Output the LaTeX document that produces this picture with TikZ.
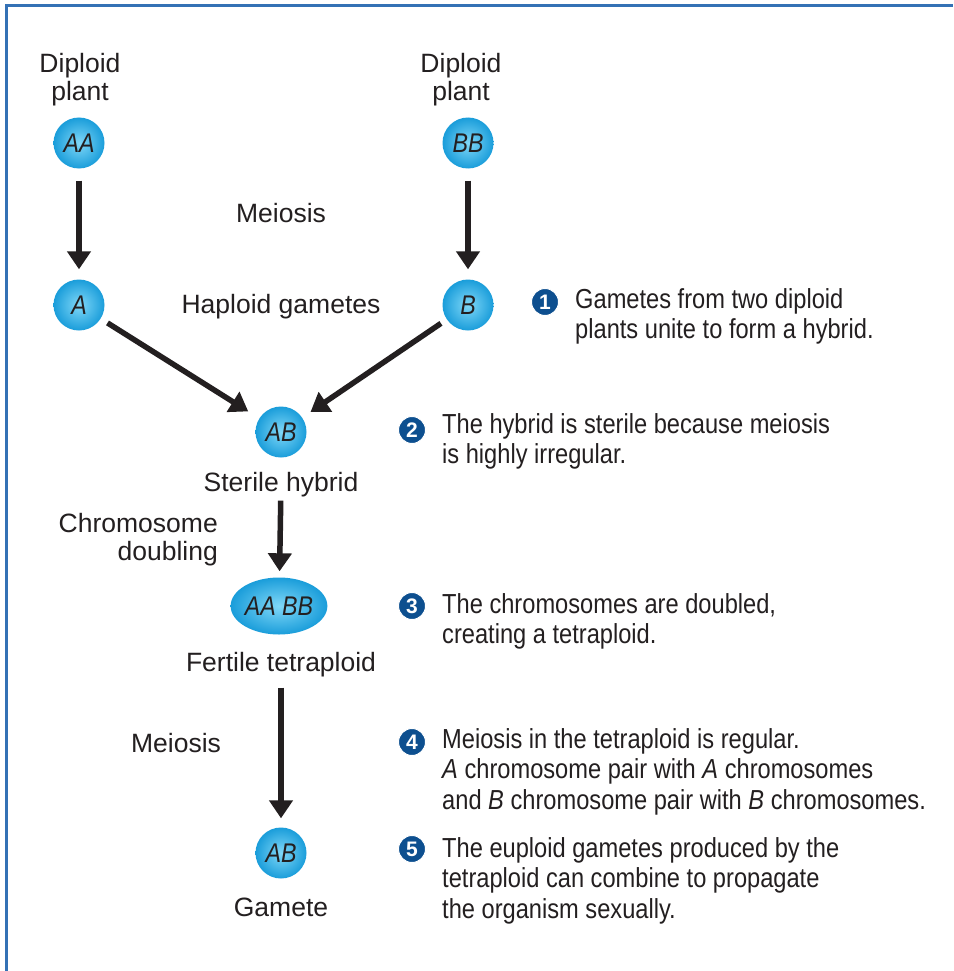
\documentclass[tikz,border=0pt]{standalone}
\usepackage{fontspec}
\setmainfont{Liberation Sans}
\newfontfamily\condfont[FakeStretch=0.86]{Liberation Sans}
\usetikzlibrary{arrows.meta,shapes.geometric}

\definecolor{ink}{HTML}{231F20}
\definecolor{frameblue}{HTML}{3471B5}
\definecolor{cellin}{HTML}{80D8F8}
\definecolor{cellout}{HTML}{1A9DDA}
\definecolor{badgeblue}{HTML}{0D4F8F}

\tikzset{
  cell/.style={circle, minimum size=51pt, inner sep=0pt,
    inner color=cellin, outer color=cellout, text=ink,
    font=\condfont\itshape\fontsize{27}{27}\selectfont},
  label/.style={font=\fontsize{26.5}{28}\selectfont, align=center, text=ink, inner sep=0pt},
  flow/.style={line width=5.5pt, ink, -{Triangle[width=23pt,length=18pt]}},
  badge/.style={circle, fill=badgeblue, draw=white, line width=1pt, minimum size=27pt, inner sep=0pt,
    text=white, font=\bfseries\fontsize{21}{21}\selectfont},
  note/.style={font=\condfont\fontsize{27.5}{30.5}\selectfont, align=left,
    anchor=north west, inner sep=0pt, text=ink},
}

\begin{document}
\begin{tikzpicture}[x=1pt,y=-1pt]
  \useasboundingbox (0,0) rectangle (953,971);
  \fill[white] (0,0) rectangle (953,971);
  % frame
  \draw[frameblue, line width=3pt] (6,971) -- (6,6) -- (953,6);

  % parent plants
  \node[label] (dipA) at (80,80) {Diploid\\plant};
  \node[label] (dipB) at (461,80) {Diploid\\plant};
  \node[cell] (AA) at (79,143) {AA};
  \node[cell] (BB) at (468,143) {BB};

  \node[label] (meiosis1) at (281,213) {Meiosis};

  % gametes
  \node[cell] (A) at (79,305) {A};
  \node[cell] (B) at (468,305) {B};
  \node[label] (haploid) at (281,307) {Haploid gametes};

  % hybrid
  \node[cell] (AB) at (281,432) {AB};
  \node[label] (sterile) at (281,485) {Sterile hybrid};
  \node[label, align=right, anchor=east] (doubling) at (218,540) {Chromosome\\doubling};

  % tetraploid
  \node[cell, ellipse, minimum width=84pt, minimum height=57pt] (AABB) at (279,606) {AA BB};
  \node[label] (fertile) at (281,665) {Fertile tetraploid};
  \node[label] (meiosis2) at (176,743) {Meiosis};

  % gamete
  \node[cell] (gamete) at (281,853) {AB};
  \node[label] (gameteLabel) at (281,907) {Gamete};

  % connectors
  \draw[flow, shorten <=12pt, shorten >=10pt] (AA) -- (A);
  \draw[flow, shorten <=12pt, shorten >=10pt] (BB) -- (B);
  \draw[flow, shorten <=8pt, shorten >=13pt] (A) -- (AB);
  \draw[flow, shorten <=7pt, shorten >=10pt] (B) -- (AB);
  \draw[flow, shorten <=3pt, shorten >=6pt] (sterile) -- (AABB);
  \draw[flow, shorten <=10pt, shorten >=9pt] (fertile) -- (gamete);

  % numbered notes
  \node[badge] (n1) at (545,302) {1};
  \node[note] (t1) at (575,288) {Gametes from two diploid\\plants unite to form a hybrid.};

  \node[badge] (n2) at (412,430) {2};
  \node[note] (t2) at (442,413) {The hybrid is sterile because meiosis\\is highly irregular.};

  \node[badge] (n3) at (412,606) {3};
  \node[note] (t3) at (442,593) {The chromosomes are doubled,\\creating a tetraploid.};

  \node[badge] (n4) at (412,742) {4};
  \node[note] (t4) at (442,728) {Meiosis in the tetraploid is regular.\\\textit{A} chromosome pair with \textit{A} chromosomes\\and \textit{B} chromosome pair with \textit{B} chromosomes.};

  \node[badge] (n5) at (412,849) {5};
  \node[note] (t5) at (442,837) {The euploid gametes produced by the\\tetraploid can combine to propagate\\the organism sexually.};
\end{tikzpicture}
\end{document}
